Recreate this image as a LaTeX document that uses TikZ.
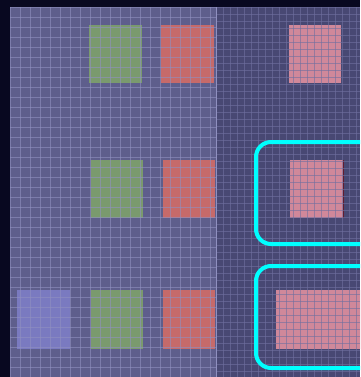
\documentclass[tikz,border=0pt]{standalone}
\definecolor{outerbg}{HTML}{080820}
\definecolor{leftbg}{HTML}{5E5E8C}
\definecolor{rightbg}{HTML}{484873}
\definecolor{leftgrid}{HTML}{9090C0}
\definecolor{rightgrid}{HTML}{7070A0}
\definecolor{cellgreen}{HTML}{7A9A6E}
\definecolor{cellred}{HTML}{C66A6A}
\definecolor{cellpink}{HTML}{D0889A}
\definecolor{cellblue}{HTML}{7A7AC0}
\definecolor{selcyan}{HTML}{00FFFF}
\tikzset{
  cell/.style={fill=#1, draw=none},
  selbox/.style={draw=selcyan, line width=4pt, rounded corners=15pt},
  gridline/.style={#1, line width=0.6pt, opacity=0.6},
}
\begin{document}
\begin{tikzpicture}[x=1pt,y=-1pt]
    \useasboundingbox (0,0) rectangle (360,377);
    \clip (0,0) rectangle (360,377);
    \fill[outerbg] (0,0) rectangle (360,377);
    \fill[leftbg] (10,7) rectangle (216,377);
    \fill[rightbg] (216,7) rectangle (360,377);
    % cells
    \filldraw[cell=cellgreen] (89,25) rectangle (142,83);
    \filldraw[cell=cellred] (161,25) rectangle (214,83);
    \filldraw[cell=cellpink] (289,25) rectangle (341,83);
    \filldraw[cell=cellgreen] (91,160) rectangle (143,218);
    \filldraw[cell=cellred] (163,160) rectangle (215,218);
    \filldraw[cell=cellpink] (290,160) rectangle (343,218);
    \draw[red!45!black, line width=0.8pt, opacity=0.6] (343,160) -- (343,218);
    \filldraw[cell=cellblue] (17,290) rectangle (70,349);
    \filldraw[cell=cellgreen] (91,290) rectangle (143,349);
    \filldraw[cell=cellred] (163,290) rectangle (215,349);
    \filldraw[cell=cellpink] (276,290) rectangle (370,349);
    % grids
    \foreach \gx in {10,20,...,210} \draw[gridline=leftgrid] (\gx,7) -- (\gx,377);
    \foreach \gy in {7,17,...,377} \draw[gridline=leftgrid] (10,\gy) -- (216,\gy);
    \foreach \gx in {223,230,...,360} \draw[gridline=rightgrid] (\gx,7) -- (\gx,377);
    \foreach \gy in {7,14,...,377} \draw[gridline=rightgrid] (216,\gy) -- (360,\gy);
    \draw[leftgrid, line width=1pt] (216,7) -- (216,377);
    % selections
    \draw[selbox] (256,142) rectangle (380,244);
    \draw[selbox] (256,266) rectangle (380,368);
\end{tikzpicture}
\end{document}
